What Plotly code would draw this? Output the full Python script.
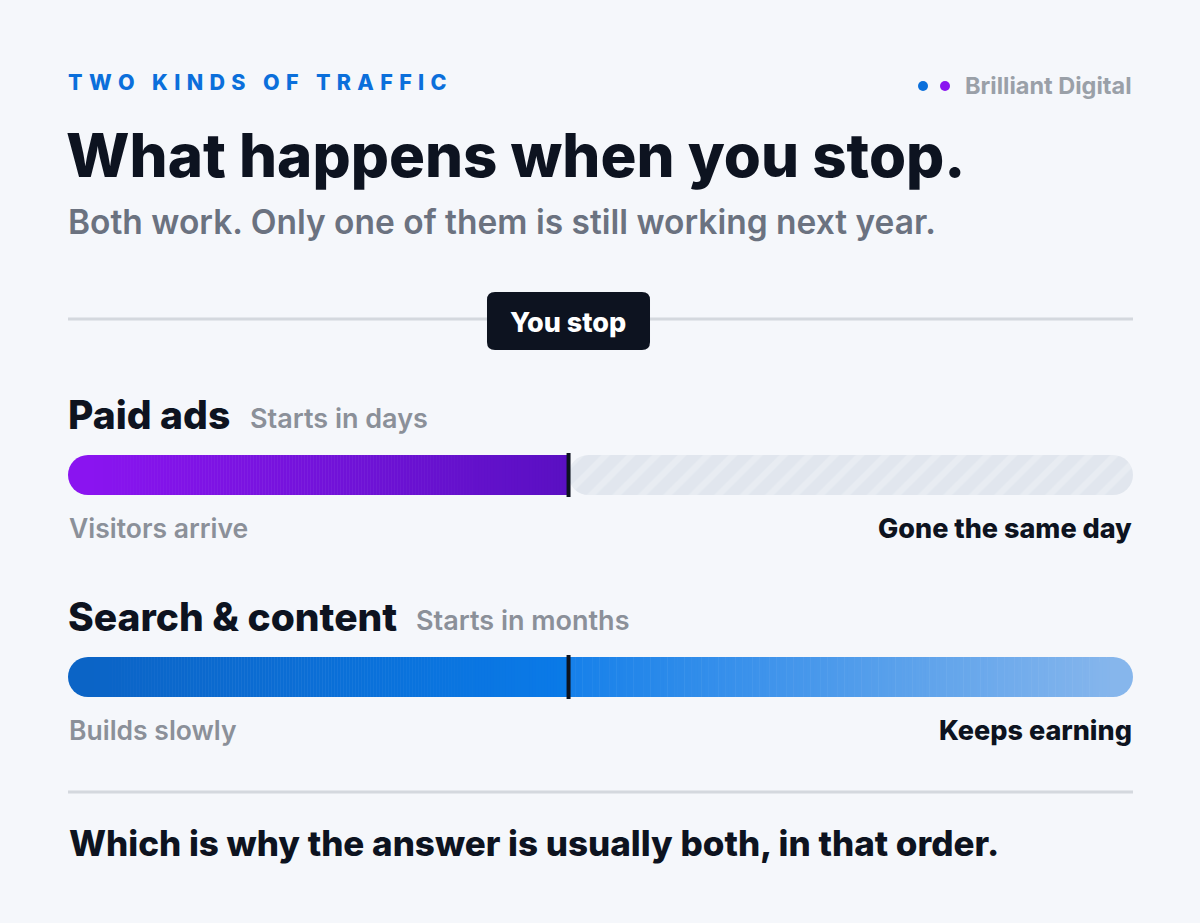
import plotly.graph_objects as go
import numpy as np

# ---- data ----
rows = ["Paid ads", "Search & content"]
row_notes = ["Starts in days", "Starts in months"]
stop_at = [47, 47]            # % of timeline where you stop
timeline_end = [100, 100]
left_labels = ["Visitors arrive", "Builds slowly"]
right_labels = ["Gone the same day", "Keeps earning"]
row_y = [475, 677]            # vertical centre (px) of each bar

W, H = 1200, 923
X0, X1 = 68, 1133
BAR_H = 40
N = 160

def hexrgb(h):
    h = h.lstrip("#"); return tuple(int(h[i:i+2], 16) for i in (0, 2, 4))
def mix(a, b, t):
    a, b = hexrgb(a), hexrgb(b)
    return "rgb(%d,%d,%d)" % tuple(round(a[i] + (b[i]-a[i])*t) for i in range(3))

fig = go.Figure()
shapes = []
annotations = []
px_per_unit = (X1 - X0) / 100.0
r_units = (BAR_H / 2) / px_per_unit

def grad_bar(y, start, end, c0, c1, round_left, round_right):
    edges = np.linspace(start + (r_units if round_left else 0), end - (r_units if round_right else 0), N + 1)
    bases = edges[:-1]; widths = np.diff(edges) + 0.05
    cols = [mix(c0, c1, (i + 0.5) / N) for i in range(N)]
    fig.add_trace(go.Bar(orientation="h", y=[y]*N, x=widths, base=bases, width=BAR_H,
                         marker=dict(color=cols, line=dict(width=0)), showlegend=False, hoverinfo="skip"))
    if round_left:
        shapes.append(dict(type="circle", xref="x", yref="y", x0=start, x1=start + 2*r_units,
                           y0=y - BAR_H/2, y1=y + BAR_H/2, fillcolor=mix(c0, c0, 0), line_width=0, layer="below"))
    if round_right:
        shapes.append(dict(type="circle", xref="x", yref="y", x0=end - 2*r_units, x1=end,
                           y0=y - BAR_H/2, y1=y + BAR_H/2, fillcolor=mix(c1, c1, 0), line_width=0, layer="below"))

# Paid ads
y = row_y[0]
grad_bar(y, 0, stop_at[0], "#8a14f0", "#5a10c2", True, False)
fig.add_trace(go.Bar(orientation="h", y=[y], x=[timeline_end[0] - stop_at[0]], base=[stop_at[0]], width=BAR_H,
                     marker=dict(color="#e1e6ee", cornerradius=20, line=dict(width=0),
                                 pattern=dict(shape="/", fgcolor="#eff2f6", bgcolor="#e1e6ee", size=18, solidity=0.35)),
                     showlegend=False, hoverinfo="skip"))
# Search & content
y = row_y[1]
grad_bar(y, 0, stop_at[1], "#0b64c6", "#0a7ae8", True, False)
grad_bar(y, stop_at[1], timeline_end[1], "#1680ea", "#86b6ec", False, True)

# stop markers
for i, yy in enumerate(row_y):
    shapes.append(dict(type="line", xref="x", yref="y", x0=stop_at[i], x1=stop_at[i],
                       y0=yy - 22, y1=yy + 22, line=dict(color="#0d1320", width=4)))

def P(x, y): return x / W, 1 - y / H
def ann(text, x, y, size, color, weight=700, xanchor="left", family="Inter"):
    px, py = P(x, y)
    annotations.append(dict(text=text, x=px, y=py, xref="paper", yref="paper", xanchor=xanchor, yanchor="middle",
                            showarrow=False, font=dict(size=size, color=color, family=family, weight=weight)))

sp = "\u2009\u2009"
ann(sp.join("TWO KINDS OF TRAFFIC"), 66, 82, 21.5, "#0b6fdb", 800)
ann("Brilliant Digital", 1134, 86, 23.5, "#9aa0a8", 700, "right")
shapes.append(dict(type="circle", xref="paper", yref="paper", x0=918/W, x1=928/W, y0=1-91/H, y1=1-81/H, fillcolor="#0b6fdb", line_width=0))
shapes.append(dict(type="circle", xref="paper", yref="paper", x0=940/W, x1=950/W, y0=1-91/H, y1=1-81/H, fillcolor="#8a14f0", line_width=0))
ann("What happens when you stop.", 64, 155, 60, "#0d1320", 800)
ann("Both work. Only one of them is still working next year.", 66, 222, 33.5, "#6b7280", 600)

# timeline line and You stop badge
shapes.append(dict(type="line", xref="paper", yref="paper", x0=X0/W, x1=X1/W, y0=1-319/H, y1=1-319/H, line=dict(color="#d4d8de", width=3)))
bx0, bx1, by0, by1, r = 487, 650, 292, 350, 8
def q(x, y): return f"{x/W:.5f},{1-y/H:.5f}"
path = (f"M{q(bx0+r,by0)} L{q(bx1-r,by0)} Q{q(bx1,by0)} {q(bx1,by0+r)} L{q(bx1,by1-r)} Q{q(bx1,by1)} {q(bx1-r,by1)} "
        f"L{q(bx0+r,by1)} Q{q(bx0,by1)} {q(bx0,by1-r)} L{q(bx0,by0+r)} Q{q(bx0,by0)} {q(bx0+r,by0)} Z")
shapes.append(dict(type="path", xref="paper", yref="paper", path=path, fillcolor="#0d1320", line_width=0))
ann("You stop", 568, 323, 27, "#ffffff", 800, "center")

# row labels
title_x2 = [248, 414]
for i in range(2):
    ty = row_y[i] - 61
    ann(rows[i], 66, ty, 39, "#0d1320", 800)
    ann(row_notes[i], title_x2[i], ty + 4, 27, "#8b9099", 600)
    ann(left_labels[i], 67, row_y[i] + 53, 26.5, "#8b9099", 600)
    ann(right_labels[i], 1134, row_y[i] + 53, 27, "#0d1320", 800, "right")

shapes.append(dict(type="line", xref="paper", yref="paper", x0=X0/W, x1=X1/W, y0=1-792/H, y1=1-792/H, line=dict(color="#d4d8de", width=3)))
ann("Which is why the answer is usually both, in that order.", 67, 843, 35, "#0d1320", 800)

fig.update_layout(
    width=W, height=H, margin=dict(l=0, r=0, t=0, b=0),
    paper_bgcolor="#f5f7fb", plot_bgcolor="rgba(0,0,0,0)", barmode="overlay",
    xaxis=dict(range=[0, 100], domain=[X0/W, X1/W], visible=False, fixedrange=True),
    yaxis=dict(range=[H, 0], visible=False, fixedrange=True),
    shapes=shapes, annotations=annotations,
)
fig.write_html("out.html", config={"displayModeBar": False})
with open("out.html", encoding="utf-8") as f:
    html = f.read()
html = html.replace("<body>", '<body style="margin:0;background:#f5f7fb">', 1)
with open("out.html", "w", encoding="utf-8") as f:
    f.write(html)
